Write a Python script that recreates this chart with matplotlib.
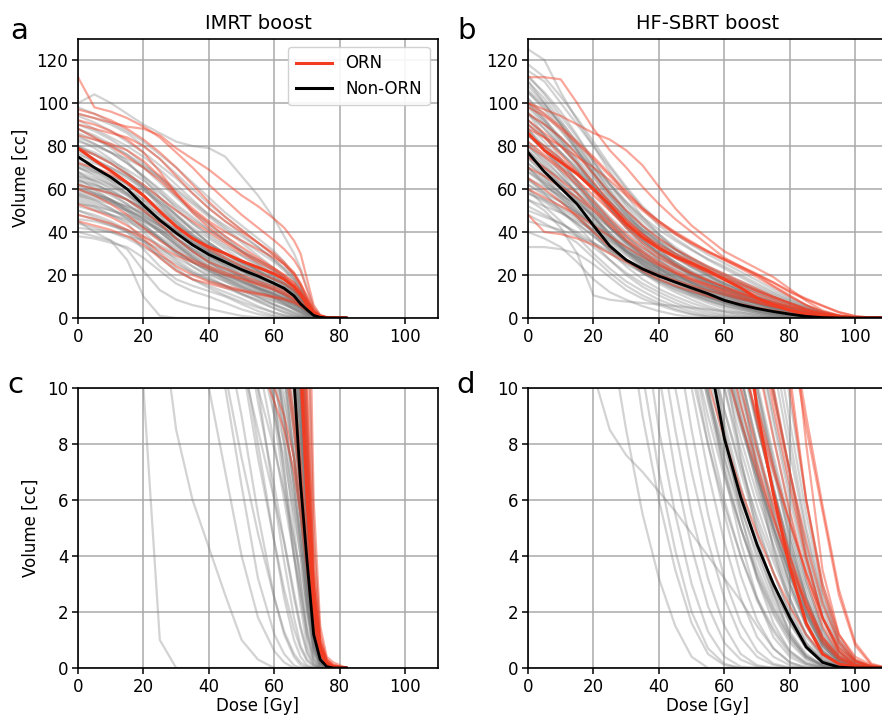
import matplotlib
matplotlib.use("Agg")
import matplotlib.pyplot as plt
from matplotlib.lines import Line2D

# ---------------- data (volume [cc] at each dose grid point [Gy]) ----------------
IMRT_DOSE = [0, 5, 10, 15, 20, 25, 30, 35, 40, 45, 50, 55, 60, 63, 66, 68, 70, 72, 74, 76, 78, 82]

IMRT_NONORN = [
    [45, 40, 36, 27, 10, 1, 0, 0, 0, 0, 0, 0, 0, 0, 0, 0, 0, 0, 0, 0, 0, 0],
    [40, 38, 36, 32, 22, 13, 8.5, 6, 4.3, 2.6, 1.0, 0.3, 0, 0, 0, 0, 0, 0, 0, 0, 0, 0],
    [38, 37, 35, 33, 28, 22, 16, 12.5, 10, 7, 4, 1.8, 0.6, 0.2, 0, 0, 0, 0, 0, 0, 0, 0],
    [50, 47, 44, 40, 32, 24, 18, 15, 12.5, 10, 6.5, 3.2, 1.2, 0.5, 0.1, 0, 0, 0, 0, 0, 0, 0],
    [55, 52, 48, 44, 36, 28, 22, 18, 15, 12, 9, 5.5, 2.5, 1.2, 0.4, 0.1, 0, 0, 0, 0, 0, 0],
    [58, 55, 51, 46, 40, 33, 27, 22, 18, 15, 11.5, 8, 4.5, 2.5, 1.0, 0.4, 0.1, 0, 0, 0, 0, 0],
    [62, 58, 54, 49, 43, 37, 31, 26, 22, 18, 14, 10, 6, 3.8, 1.8, 0.8, 0.3, 0.1, 0, 0, 0, 0],
    [48, 46, 43, 40, 36, 31, 26, 21, 17, 14, 11, 8.5, 6, 4.5, 2.5, 1.4, 0.5, 0.1, 0, 0, 0, 0],
    [65, 60, 55, 50, 45, 40, 34, 28, 23, 19, 16, 13, 9.5, 7, 4, 2.2, 0.8, 0.2, 0, 0, 0, 0],
    [68, 63, 58, 53, 47, 41, 35, 30, 26, 22, 18, 14, 10.5, 8, 5, 3, 1.2, 0.3, 0, 0, 0, 0],
    [70, 66, 62, 57, 50, 43, 37, 32, 28, 25, 21, 17, 13, 10.5, 7.5, 5, 2.5, 0.8, 0.2, 0, 0, 0],
    [75, 70, 65, 60, 54, 47, 40, 34, 30, 26, 22, 19, 15, 12.5, 10, 7.5, 4, 1.2, 0.3, 0, 0, 0],
    [60, 57, 54, 50, 46, 41, 36, 31, 27, 23, 19, 16, 13, 11, 8.5, 6, 3.2, 1, 0.2, 0, 0, 0],
    [56, 53, 50, 47, 43, 38, 33, 28, 24, 20, 17, 14, 11, 9, 6.5, 4.5, 2.2, 0.6, 0.1, 0, 0, 0],
    [80, 76, 72, 67, 61, 54, 47, 41, 35, 30, 25, 20, 16, 13.5, 10.5, 8, 5, 1.8, 0.4, 0.1, 0, 0],
    [85, 81, 77, 72, 66, 59, 51, 44, 38, 33, 29, 25, 20, 17, 13, 10, 6, 2, 0.5, 0.1, 0, 0],
    [90, 87, 83, 78, 72, 65, 57, 50, 44, 38, 32, 27, 22, 19, 15, 11, 6.5, 2.2, 0.5, 0.1, 0, 0],
    [100, 104, 100, 95, 90, 86, 82, 80, 79, 75, 66, 57, 46, 38, 30, 23, 14, 5, 1, 0.2, 0, 0],
    [95, 93, 90, 86, 80, 74, 67, 60, 53, 47, 41, 35, 29, 25, 19, 14, 8, 3, 0.6, 0.1, 0, 0],
    [72, 68, 64, 60, 55, 50, 44, 38, 33, 29, 25, 21, 17, 14.5, 11.5, 9, 5.5, 2, 0.4, 0.1, 0, 0],
    [66, 62, 59, 55, 51, 46, 41, 36, 31, 27, 23, 19, 15, 12.5, 9.5, 7, 4, 1.3, 0.3, 0, 0, 0],
    [78, 74, 70, 66, 60, 52, 44, 37, 31, 26, 22, 18, 14, 11.5, 9, 6.5, 3.5, 1.1, 0.3, 0, 0, 0],
    [88, 84, 79, 73, 65, 56, 48, 41, 35, 30, 26, 22, 18, 15, 12, 9, 5.5, 1.8, 0.4, 0.1, 0, 0],
    [62, 60, 58, 55, 50, 44, 37, 31, 26, 22, 19, 16, 12.5, 10.5, 8, 5.5, 3, 0.9, 0.2, 0, 0, 0],
    [70, 68, 66, 63, 59, 54, 48, 42, 37, 32, 27, 22, 17, 14, 11, 8.5, 5, 1.6, 0.4, 0.1, 0, 0],
    [82, 80, 77, 74, 70, 65, 59, 53, 47, 41, 35, 29, 23, 19, 14, 10, 5.5, 1.8, 0.4, 0.1, 0, 0],
    [58, 56, 54, 52, 48, 43, 38, 33, 29, 25, 22, 19, 16, 14, 11.5, 9, 5.5, 2, 0.5, 0.1, 0, 0],
    [52, 50, 48, 46, 42, 37, 32, 27, 23, 20, 17, 14, 11.5, 9.8, 7.5, 5.5, 3, 1, 0.2, 0, 0, 0],
    [92, 88, 84, 80, 75, 69, 62, 55, 48, 42, 36, 31, 26, 22, 17, 13, 7.5, 2.5, 0.6, 0.1, 0, 0],
    [64, 61, 57, 53, 48, 42, 35, 29, 24, 20, 16.5, 13.5, 11, 9.5, 7.5, 5.5, 3.2, 1.1, 0.3, 0, 0, 0],
    [76, 73, 70, 66, 61, 55, 48, 41, 35, 30, 26, 22, 18, 15.5, 12.5, 10, 6.5, 2.5, 0.6, 0.1, 0, 0],
    [98, 95, 91, 87, 82, 76, 70, 63, 56, 49, 43, 37, 31, 26, 20, 15, 9, 3, 0.7, 0.1, 0, 0],
    [42, 41, 40, 38, 36, 32, 28, 24, 20, 17, 14, 11.5, 9, 7.5, 5.5, 4, 2.2, 0.7, 0.2, 0, 0, 0],
    [74, 72, 69, 65, 60, 53, 46, 39, 33, 28, 24, 20, 16, 13.5, 10.5, 8, 4.5, 1.5, 0.3, 0, 0, 0],
    [68, 65, 62, 58, 52, 46, 40, 35, 31, 27, 24, 21, 18, 16, 13, 10, 6, 2.2, 0.5, 0.1, 0, 0],
    [86, 83, 80, 76, 71, 66, 60, 54, 48, 43, 38, 33, 27, 23, 18, 13, 7.5, 2.5, 0.5, 0.1, 0, 0],
    [54, 51, 48, 45, 41, 36, 31, 26, 22, 18.5, 15, 12, 9.5, 8, 6, 4.5, 2.5, 0.8, 0.2, 0, 0, 0],
    [60, 58, 55, 51, 46, 40, 34, 28, 23, 19, 15, 12, 10, 8.6, 7, 5.5, 3.5, 1.2, 0.3, 0, 0, 0],
    [80, 77, 73, 69, 64, 58, 52, 46, 41, 36, 31, 26, 21, 18, 14, 11, 7, 2.5, 0.5, 0.1, 0, 0],
    [94, 91, 87, 82, 77, 71, 65, 58, 51, 45, 39, 33, 27, 23, 18, 13, 7.5, 2.5, 0.5, 0.1, 0, 0],
    [50, 48, 45, 41, 35, 29, 23, 18, 14, 10.5, 7.5, 4.8, 2.5, 1.3, 0.5, 0.2, 0.05, 0, 0, 0, 0, 0],
    [63, 59, 55, 50, 44, 37, 30, 24, 19, 15, 11, 7.5, 4.5, 2.8, 1.4, 0.7, 0.25, 0.05, 0, 0, 0, 0],
    [57, 54, 51, 47, 42, 37, 31, 26, 21, 17, 13, 9.5, 6.5, 4.5, 2.7, 1.5, 0.6, 0.15, 0, 0, 0, 0],
    [73, 69, 64, 58, 51, 44, 37, 31, 26, 21, 17, 13, 9, 6.5, 4, 2.5, 1.1, 0.3, 0.05, 0, 0, 0],
    [67, 64, 60, 55, 49, 43, 37, 32, 27, 23, 19, 15, 11, 8.5, 5.8, 4, 2, 0.6, 0.1, 0, 0, 0],
    [83, 79, 74, 68, 61, 53, 45, 38, 32, 27, 22, 17.5, 13, 10.5, 7.5, 5.5, 3, 1, 0.2, 0, 0, 0],
    [46, 45, 43, 41, 38, 34, 30, 26, 22, 18, 14.5, 11, 8, 6, 4, 2.7, 1.3, 0.4, 0.05, 0, 0, 0],
    [77, 73, 68, 62, 55, 48, 41, 35, 30, 25, 20, 15.5, 11.5, 9, 6.5, 4.5, 2.5, 0.8, 0.15, 0, 0, 0],
    [61, 58, 55, 51, 46, 40, 34, 29, 25, 21, 17.5, 14, 11, 9, 6.5, 4.8, 2.8, 0.9, 0.2, 0, 0, 0],
    [70, 67, 63, 58, 52, 46, 40, 34, 29, 24, 19, 14, 9.5, 7, 4.5, 3, 1.5, 0.5, 0.1, 0, 0, 0],
    [88, 85, 81, 76, 70, 63, 56, 49, 43, 37, 31, 25, 19.5, 16, 12.5, 9.5, 6, 2, 0.4, 0.1, 0, 0],
    [64, 62, 59, 55, 51, 46, 41, 36, 32, 28, 24, 20, 16, 13.5, 10.8, 8.5, 5.5, 2, 0.4, 0.1, 0, 0],
    [79, 76, 72, 67, 62, 56, 50, 44, 39, 34, 29, 24, 19, 16, 12.5, 9.5, 5.8, 2, 0.4, 0.1, 0, 0],
    [59, 57, 55, 52, 49, 45, 40, 35, 30, 26, 22, 18, 14, 11.5, 8.8, 6.5, 3.8, 1.3, 0.3, 0, 0, 0],
    [53, 52, 50, 48, 45, 41, 37, 32, 28, 24, 20, 16.5, 13, 11, 8.5, 6.5, 4, 1.5, 0.3, 0, 0, 0],
    [71, 69, 66, 62, 57, 51, 45, 39, 34, 30, 26, 22, 18, 15.5, 12.5, 9.8, 6.2, 2.2, 0.5, 0.1, 0, 0],
    [84, 81, 77, 72, 66, 60, 53, 47, 41, 36, 31, 27, 22, 19, 15, 11.5, 7, 2.4, 0.5, 0.1, 0, 0],
    [66, 64, 61, 57, 53, 48, 43, 38, 34, 30, 26, 22.5, 19, 16.5, 13.5, 10.5, 6.5, 2.3, 0.5, 0.1, 0, 0],
    [57, 55, 53, 50, 47, 43, 39, 35, 31, 27, 23, 19.5, 16, 13.5, 11, 8.5, 5.2, 1.8, 0.4, 0.1, 0, 0],
    [44, 42, 40, 37, 33, 29, 25, 21, 18, 15, 12.5, 10, 7.8, 6.3, 4.6, 3.4, 2, 0.7, 0.15, 0, 0, 0],
]

IMRT_ORN = [
    [112, 98, 96, 93, 89, 84, 77, 70, 62, 55, 48, 42, 36, 32, 27, 22, 13, 4.5, 1.2, 0.3, 0.1, 0],
    [95, 93, 91, 89, 88, 85, 79, 74, 69, 63, 57, 52, 46, 42, 36, 30, 18, 6, 1.5, 0.4, 0.2, 0],
    [97, 95, 92, 88, 83, 77, 70, 62, 54, 47, 41, 35, 29, 25, 20, 15, 8.5, 3, 0.8, 0.2, 0.05, 0],
    [90, 88, 86, 84, 80, 74, 66, 58, 51, 45, 40, 35, 30, 26, 21, 16, 10, 3.5, 0.9, 0.2, 0.05, 0],
    [88, 84, 80, 75, 70, 64, 57, 50, 44, 38, 33, 28, 23, 20, 16, 12, 7.5, 2.8, 0.8, 0.2, 0.05, 0],
    [79, 76, 72, 67, 62, 56, 50, 45, 40, 35, 30, 26, 22, 19, 15, 11.5, 7, 2.8, 0.8, 0.2, 0.05, 0],
    [72, 70, 67, 63, 57, 50, 43, 37, 32, 28, 24, 21, 18, 16, 13, 10, 6.5, 2.5, 0.8, 0.2, 0.05, 0],
    [62, 60, 58, 55, 50, 44, 37, 31, 26, 23, 20, 17, 14.5, 12.5, 10, 7.5, 4.5, 1.8, 0.6, 0.15, 0.05, 0],
    [60, 57, 53, 48, 42, 36, 31, 27, 24, 21, 18.5, 16, 13.5, 11.5, 9, 7, 4.2, 1.6, 0.5, 0.15, 0.05, 0],
    [53, 50, 47, 43, 38, 33, 29, 26, 23, 20, 18, 15.5, 13, 11, 8.5, 6.5, 4, 1.5, 0.5, 0.15, 0.05, 0],
    [48, 46, 44, 41, 37, 30, 24, 20, 17, 15, 13, 11.5, 10, 9, 7.5, 6, 4, 1.6, 0.5, 0.2, 0.05, 0],
    [45, 43, 41, 38, 34, 28, 22, 18, 16, 14, 12.5, 11, 9.5, 8.5, 7, 5.5, 3.5, 1.4, 0.5, 0.15, 0.05, 0],
    [92, 90, 87, 83, 77, 68, 58, 49, 42, 36, 31, 27, 23, 20, 16.5, 12.5, 8, 3, 0.9, 0.3, 0.1, 0],
    [85, 83, 81, 78, 73, 66, 58, 51, 45, 40, 36, 32, 28, 25, 21, 16, 9.5, 3.5, 1, 0.3, 0.1, 0],
]

IMRT_MEAN_NONORN = [75, 70, 65.5, 60, 52.5, 45.5, 39.5, 34, 29.5, 26, 22.5, 19.5, 16, 13.8, 10.3, 6.6, 3.8, 1.2, 0.3, 0.05, 0, 0]
IMRT_MEAN_ORN = [79, 73.5, 68.5, 63, 57, 49.5, 42.5, 37, 33, 30, 26.5, 23.5, 20.5, 18, 14.5, 11, 6, 2.3, 0.7, 0.15, 0.03, 0]

SBRT_DOSE = [0, 5, 10, 15, 20, 25, 30, 35, 40, 45, 50, 55, 60, 65, 70, 75, 80, 85, 90, 95, 100, 105, 110]

SBRT_NONORN = [
    [55, 50, 42, 30, 10.5, 8.5, 7.6, 7, 6.3, 5.6, 4.8, 4, 3.2, 2.4, 1.5, 0.7, 0.2, 0, 0, 0, 0, 0, 0],
    [40, 37, 33, 26, 18, 12, 8.5, 5.5, 3.2, 1.5, 0.4, 0, 0, 0, 0, 0, 0, 0, 0, 0, 0, 0, 0],
    [33, 33, 32, 30, 25, 19, 13, 9, 6, 3.5, 1.6, 0.5, 0.1, 0, 0, 0, 0, 0, 0, 0, 0, 0, 0],
    [48, 44, 40, 35, 28, 21, 15, 10.5, 7, 4.2, 2, 0.7, 0.15, 0, 0, 0, 0, 0, 0, 0, 0, 0, 0],
    [60, 52, 45, 38, 30, 23, 17, 12.5, 8.5, 5.5, 3, 1.3, 0.4, 0.05, 0, 0, 0, 0, 0, 0, 0, 0, 0],
    [65, 58, 50, 43, 35, 27, 20, 14.5, 10.5, 7, 4.3, 2.2, 0.9, 0.3, 0.05, 0, 0, 0, 0, 0, 0, 0, 0],
    [52, 48, 44, 39, 33, 27, 21, 16, 12, 8.5, 5.5, 3.2, 1.5, 0.5, 0.1, 0, 0, 0, 0, 0, 0, 0, 0],
    [70, 62, 55, 47, 39, 31, 24, 18, 13.5, 10, 7, 4.5, 2.5, 1.1, 0.4, 0.1, 0, 0, 0, 0, 0, 0, 0],
    [75, 66, 58, 50, 42, 34, 27, 21, 16, 12, 8.5, 5.5, 3.2, 1.6, 0.6, 0.15, 0.02, 0, 0, 0, 0, 0, 0],
    [58, 55, 51, 46, 40, 33, 27, 21.5, 17, 13, 10, 7, 4.5, 2.5, 1.1, 0.4, 0.1, 0, 0, 0, 0, 0, 0],
    [80, 72, 64, 56, 47, 38, 30, 24, 19, 14.5, 11, 8, 5.5, 3.3, 1.7, 0.7, 0.2, 0.03, 0, 0, 0, 0, 0],
    [90, 82, 73, 64, 54, 45, 36, 29, 23, 18, 13.5, 10, 7, 4.5, 2.5, 1.1, 0.4, 0.1, 0, 0, 0, 0, 0],
    [100, 92, 82, 72, 61, 51, 42, 34, 27, 21, 16, 12, 8.5, 5.5, 3.2, 1.6, 0.6, 0.15, 0.02, 0, 0, 0, 0],
    [110, 102, 92, 81, 70, 59, 49, 40, 32, 25, 19.5, 15, 11, 7.5, 4.8, 2.7, 1.2, 0.4, 0.1, 0, 0, 0, 0],
    [125, 120, 105, 92, 80, 68, 57, 47, 39, 32, 26, 20, 15, 10.5, 7, 4.2, 2.2, 0.9, 0.25, 0.05, 0, 0, 0],
    [62, 57, 52, 47, 41, 35, 29, 24, 20, 16.5, 13.5, 11, 8.5, 6.3, 4.3, 2.6, 1.3, 0.5, 0.1, 0, 0, 0, 0],
    [85, 78, 70, 62, 53, 44, 36, 30, 25, 21, 17.5, 14.5, 11.5, 9, 6.5, 4.3, 2.5, 1.1, 0.35, 0.05, 0, 0, 0],
    [95, 88, 80, 71, 61, 51, 42, 35, 29, 24, 20, 16.5, 13.5, 10.5, 8, 5.5, 3.3, 1.6, 0.6, 0.1, 0, 0, 0],
    [105, 98, 90, 80, 70, 60, 50, 42, 35, 29, 24, 20, 16, 12.5, 9.5, 6.5, 4, 2, 0.8, 0.2, 0.03, 0, 0],
    [72, 66, 60, 54, 47, 40, 33, 27.5, 23, 19, 15.5, 12.5, 10, 7.8, 5.8, 4, 2.5, 1.2, 0.4, 0.05, 0, 0, 0],
    [68, 63, 58, 52, 45, 38, 31, 25, 20, 16, 12.5, 9.5, 7, 5, 3.3, 2, 1, 0.35, 0.08, 0, 0, 0, 0],
    [78, 70, 62, 55, 47, 39, 32, 26, 21, 17, 13.5, 10.5, 8, 5.8, 3.9, 2.4, 1.2, 0.45, 0.1, 0, 0, 0, 0],
    [88, 80, 72, 64, 55, 46, 38, 31, 25, 20.5, 16.5, 13, 10, 7.4, 5.2, 3.4, 1.9, 0.8, 0.25, 0.04, 0, 0, 0],
    [98, 90, 81, 72, 62, 52, 43, 36, 30, 25, 20.5, 16.5, 13, 10, 7.3, 5, 3, 1.5, 0.5, 0.1, 0, 0, 0],
    [112, 105, 96, 85, 73, 62, 52, 43, 36, 30, 25, 20.5, 16.5, 13, 10, 7.2, 4.6, 2.5, 1, 0.3, 0.05, 0, 0],
    [108, 100, 90, 78, 66, 55, 45, 37, 31, 26, 21.5, 18, 14.5, 11.5, 8.8, 6.3, 4, 2.1, 0.9, 0.25, 0.04, 0, 0],
    [82, 75, 68, 61, 53, 45, 38, 32, 27, 23, 19.5, 16.5, 13.5, 11, 8.6, 6.4, 4.3, 2.5, 1.1, 0.35, 0.06, 0, 0],
    [92, 85, 77, 69, 60, 51, 43, 36, 30.5, 26, 22, 18.5, 15.5, 12.5, 9.8, 7.2, 4.8, 2.7, 1.2, 0.4, 0.08, 0, 0],
    [102, 95, 87, 78, 68, 58, 49, 41, 35, 30, 25.5, 21.5, 18, 14.5, 11.3, 8.3, 5.5, 3.1, 1.4, 0.45, 0.1, 0.01, 0],
    [75, 70, 65, 59, 52, 45, 38, 32.5, 28, 24, 20.5, 17.5, 14.5, 12, 9.5, 7, 4.6, 2.5, 1, 0.3, 0.05, 0, 0],
    [65, 61, 57, 53, 48, 42, 36, 31, 26.5, 22.5, 19, 16, 13, 10.4, 8, 5.8, 3.8, 2.1, 0.9, 0.25, 0.04, 0, 0],
    [55, 52, 49, 45, 41, 36, 31, 27, 23, 19.5, 16.5, 13.5, 11, 8.7, 6.6, 4.7, 3, 1.6, 0.6, 0.15, 0.02, 0, 0],
    [100, 92, 84, 76, 67, 58, 50, 43, 37, 32, 27.5, 23.5, 20, 16.5, 13.2, 10, 7, 4.2, 2, 0.7, 0.15, 0.02, 0],
    [115, 110, 100, 90, 80, 70, 60, 51, 43, 37, 32, 27, 23, 19, 15, 11.5, 8.2, 5, 2.5, 0.9, 0.2, 0.03, 0],
    [95, 90, 84, 77, 70, 62, 54, 47, 41, 36, 31.5, 27.5, 24, 20, 16, 12.3, 8.8, 5.5, 2.7, 1, 0.25, 0.04, 0],
    [85, 80, 74, 68, 61, 54, 47, 41, 36, 31.5, 27.5, 24, 20.5, 17.2, 14, 10.8, 7.7, 4.8, 2.4, 0.9, 0.2, 0.03, 0],
    [70, 64, 58, 51, 44, 37, 31, 26, 22, 18.5, 15.5, 12.8, 10.4, 8.2, 6.2, 4.4, 2.8, 1.5, 0.6, 0.15, 0.02, 0, 0],
    [60, 55, 50, 44, 38, 32, 27, 23, 19.5, 16.5, 13.8, 11.4, 9.2, 7.2, 5.4, 3.8, 2.4, 1.2, 0.45, 0.1, 0.01, 0, 0],
    [45, 43, 41, 38, 35, 31, 27, 23.5, 20.5, 17.5, 15, 12.7, 10.6, 8.6, 6.8, 5, 3.3, 1.8, 0.7, 0.2, 0.03, 0, 0],
    [118, 112, 103, 93, 82, 71, 61, 52, 45, 39, 34, 29.5, 25.5, 21.5, 17.5, 13.5, 9.6, 6, 3, 1.1, 0.3, 0.05, 0],
    [90, 84, 77, 70, 62, 54, 46, 39.5, 34, 29.5, 25.5, 22, 18.8, 15.8, 12.8, 9.8, 6.8, 4, 1.8, 0.6, 0.1, 0.01, 0],
    [80, 73, 66, 58, 50, 42, 35, 29, 24, 20, 16.5, 13.5, 11, 8.8, 6.8, 5, 3.3, 1.9, 0.8, 0.25, 0.05, 0, 0],
    [50, 47, 44, 40, 35, 30, 25, 21, 17.5, 14.5, 12, 9.8, 7.8, 6, 4.4, 3, 1.8, 0.8, 0.25, 0.05, 0, 0, 0],
    [72, 65, 57, 49, 40, 32, 26, 21, 17, 13.5, 10.5, 8, 5.8, 4, 2.5, 1.4, 0.6, 0.2, 0.04, 0, 0, 0, 0],
    [105, 97, 88, 78, 67, 57, 48, 40, 33.5, 28, 23.5, 19.5, 16, 12.8, 10, 7.4, 5, 2.9, 1.3, 0.4, 0.08, 0, 0],
    [88, 78, 68, 58, 48, 39, 31, 25, 20, 15.5, 11.5, 8.5, 6, 4, 2.4, 1.3, 0.5, 0.15, 0.02, 0, 0, 0, 0],
    [95, 85, 74, 63, 52, 42, 34, 27, 21.5, 17, 13, 9.8, 7.2, 5, 3.2, 1.9, 0.9, 0.3, 0.05, 0, 0, 0, 0],
    [78, 71, 63, 55, 47, 39, 32, 26.5, 22, 18, 14.5, 11.5, 8.8, 6.5, 4.5, 2.9, 1.6, 0.7, 0.2, 0.03, 0, 0, 0],
    [68, 62, 56, 50, 43, 36, 30, 25, 20.5, 16.5, 13, 10, 7.5, 5.4, 3.6, 2.2, 1.1, 0.4, 0.1, 0, 0, 0, 0],
    [102, 93, 83, 73, 63, 53, 44, 36.5, 30, 24.5, 20, 16, 12.5, 9.5, 7, 4.8, 3, 1.6, 0.6, 0.15, 0.02, 0, 0],
    [85, 78, 71, 63, 55, 47, 40, 34, 29, 24.5, 20.5, 17, 14, 11.2, 8.7, 6.4, 4.3, 2.5, 1.1, 0.35, 0.05, 0, 0],
    [58, 54, 49, 44, 38, 32, 26.5, 22, 18, 14.5, 11.5, 9, 6.8, 5, 3.4, 2.1, 1.1, 0.4, 0.08, 0, 0, 0, 0],
    [92, 85, 77, 69, 60, 51, 43, 36, 30, 25, 21, 17.5, 14.2, 11.3, 8.7, 6.3, 4.1, 2.3, 1, 0.3, 0.05, 0, 0],
    [110, 100, 90, 79, 68, 57, 47, 39, 32, 26, 21, 17, 13.5, 10.5, 7.8, 5.5, 3.5, 1.9, 0.8, 0.2, 0.03, 0, 0],
    [74, 68, 62, 56, 49, 42, 35.5, 30, 25.5, 21.5, 18, 15, 12.3, 9.8, 7.6, 5.6, 3.8, 2.2, 1, 0.3, 0.05, 0, 0],
    [64, 59, 54, 49, 43, 37, 31.5, 27, 23, 19.5, 16.5, 13.8, 11.3, 9, 7, 5.1, 3.4, 1.9, 0.8, 0.2, 0.03, 0, 0],
    [96, 88, 80, 72, 63, 54, 46, 39, 33, 28, 23.5, 19.5, 16, 13, 10.2, 7.6, 5.2, 3.1, 1.4, 0.45, 0.08, 0, 0],
    [106, 99, 91, 82, 72, 62, 53, 45, 38, 32, 27, 22.5, 18.5, 15, 11.8, 8.8, 6, 3.6, 1.7, 0.55, 0.1, 0.01, 0],
    [81, 74, 66, 58, 50, 42, 35, 29, 24, 20, 16.5, 13.5, 11, 8.8, 6.8, 5, 3.4, 2, 0.9, 0.3, 0.05, 0, 0],
    [70, 63, 56, 48, 40, 33, 27, 22, 18, 14.8, 12, 9.6, 7.5, 5.7, 4.1, 2.7, 1.6, 0.7, 0.2, 0.03, 0, 0, 0],
    [87, 79, 70, 61, 52, 43, 35, 28.5, 23, 18.5, 14.8, 11.8, 9.2, 7, 5, 3.4, 2, 0.9, 0.3, 0.05, 0, 0, 0],
    [99, 91, 83, 74, 65, 56, 48, 41, 35, 30, 25.5, 21.5, 18, 14.8, 11.8, 9, 6.3, 3.8, 1.8, 0.6, 0.1, 0.01, 0],
    [62, 58, 54, 49, 44, 38, 33, 28, 24, 20.5, 17.2, 14.3, 11.7, 9.3, 7.2, 5.3, 3.6, 2, 0.9, 0.25, 0.04, 0, 0],
    [76, 69, 62, 54, 46, 38, 31, 25.5, 21, 17, 13.7, 10.8, 8.3, 6.2, 4.4, 2.9, 1.7, 0.8, 0.25, 0.04, 0, 0, 0],
    [113, 104, 94, 84, 73, 63, 54, 46, 39, 33, 28, 23.5, 19.5, 16, 12.8, 9.8, 7, 4.4, 2.2, 0.8, 0.15, 0.02, 0],
]

SBRT_ORN = [
    [112, 112, 111, 100, 88, 78, 70, 61, 53, 46, 40, 34, 28, 24, 20, 15, 10.5, 6, 3, 1.2, 0.4, 0.1, 0],
    [100, 97, 94, 90, 86, 83, 78, 71, 61, 51, 43, 37, 31, 27, 23, 19, 13.5, 8, 3.5, 1.2, 0.3, 0.05, 0],
    [98, 94, 88, 81, 74, 66, 58, 51, 45, 40, 35.5, 31, 27, 23, 19, 14.5, 10, 6, 2.8, 1, 0.25, 0.03, 0],
    [95, 90, 84, 76, 67, 58, 50, 43, 37, 32, 28, 24, 20.5, 17, 13.5, 10, 7, 4, 1.8, 0.6, 0.1, 0, 0],
    [92, 86, 80, 72, 63, 54, 46, 39, 33, 28.5, 24.5, 21, 17.5, 14, 11, 8.2, 5.6, 3.3, 1.5, 0.5, 0.1, 0, 0],
    [90, 84, 76, 68, 59, 50, 42, 35, 29.5, 25, 21, 17.5, 14.5, 11.5, 8.8, 6.3, 4, 2.2, 0.9, 0.3, 0.05, 0, 0],
    [85, 80, 74, 67, 60, 52, 45, 39, 34, 30, 26.5, 23, 19.5, 16, 12.5, 9.3, 6.5, 3.9, 1.8, 0.6, 0.12, 0.02, 0],
    [80, 75, 69, 62, 54, 46, 39, 33, 28, 24, 20.5, 17.5, 14.5, 11.8, 9.4, 7.2, 5.2, 3.4, 1.8, 0.7, 0.2, 0.03, 0],
    [75, 70, 64, 58, 51, 44, 37, 31, 26, 22, 18.5, 15.5, 12.5, 10, 7.8, 5.8, 4, 2.4, 1.1, 0.4, 0.08, 0, 0],
    [70, 66, 61, 56, 50, 43, 36, 30, 25, 21, 17.5, 14.5, 11.8, 9.4, 7.3, 5.4, 3.7, 2.2, 1, 0.35, 0.07, 0, 0],
    [48, 40, 39, 37, 34, 30, 26, 23, 20, 17.5, 15, 12.8, 10.8, 8.8, 7, 5.3, 3.7, 2.3, 1.1, 0.4, 0.1, 0.01, 0],
    [65, 60, 54, 47, 40, 33, 27, 22, 18, 15, 12.5, 10.2, 8.2, 6.4, 4.8, 3.4, 2.2, 1.2, 0.5, 0.15, 0.03, 0, 0],
    [100, 95, 89, 82, 75, 67, 59, 51, 45, 39.5, 35, 31, 27.5, 24, 20.5, 16.5, 12, 8.6, 5.6, 2.6, 0.8, 0.1, 0],
    [88, 84, 80, 75, 70, 64, 57, 50, 44, 39, 34.5, 30.5, 27, 23.5, 20, 16.5, 12.5, 9, 5.8, 2.8, 0.9, 0.15, 0],
    [82, 76, 70, 64, 57, 50, 43, 37, 32, 28, 24.5, 21.5, 18.5, 15.5, 12.5, 9.7, 7, 4.5, 2.3, 0.9, 0.25, 0.05, 0],
    [60, 56, 52, 48, 43, 38, 33, 28.5, 24.5, 21, 18, 15.5, 13.2, 11, 9, 7, 5.2, 3.4, 1.8, 0.75, 0.25, 0.05, 0],
]

SBRT_MEAN_NONORN = [77, 68, 60.5, 53, 43, 33.5, 27, 22.8, 19.5, 16.7, 14, 11.3, 8.2, 6.1, 4.4, 3, 1.8, 0.75, 0.2, 0.03, 0, 0, 0]
SBRT_MEAN_ORN = [86, 78, 72.5, 67, 60, 52.5, 44, 37.5, 32.5, 28.5, 25.5, 22, 18, 14, 9.2, 6.2, 3.6, 1.6, 0.5, 0.15, 0.02, 0, 0]

TITLES = ["IMRT boost", "HF-SBRT boost"]
PANEL_LETTERS = ["a", "b", "c", "d"]
LEGEND_LABELS = ["ORN", "Non-ORN"]

# sanity check on series lengths
for grid, group in [(IMRT_DOSE, IMRT_NONORN + IMRT_ORN + [IMRT_MEAN_NONORN, IMRT_MEAN_ORN]),
                    (SBRT_DOSE, SBRT_NONORN + SBRT_ORN + [SBRT_MEAN_NONORN, SBRT_MEAN_ORN])]:
    for i, v in enumerate(group):
        if len(v) != len(grid):
            raise ValueError(f"series {i} has {len(v)} values, expected {len(grid)}")

# ---------------- styling ----------------
RED = "#f23c22"
GRAY = "#7a7a7a"
FS = 12

plt.rcParams["font.family"] = ["DejaVu Sans"]
fig = plt.figure(figsize=(8.82, 7.19), dpi=100)

W, H = 882.0, 719.0
def ax_at(x0, y_top, y_bot, width=360):
    return fig.add_axes([x0 / W, 1 - y_bot / H, width / W, (y_bot - y_top) / H])

ax_a = ax_at(78, 38.5, 318)
ax_b = ax_at(528, 38.5, 318)
ax_c = ax_at(78, 388, 668)
ax_d = ax_at(528, 388, 668)

panels = [
    (ax_a, IMRT_DOSE, IMRT_NONORN, IMRT_ORN, IMRT_MEAN_NONORN, IMRT_MEAN_ORN, 130),
    (ax_b, SBRT_DOSE, SBRT_NONORN, SBRT_ORN, SBRT_MEAN_NONORN, SBRT_MEAN_ORN, 130),
    (ax_c, IMRT_DOSE, IMRT_NONORN, IMRT_ORN, IMRT_MEAN_NONORN, IMRT_MEAN_ORN, 10),
    (ax_d, SBRT_DOSE, SBRT_NONORN, SBRT_ORN, SBRT_MEAN_NONORN, SBRT_MEAN_ORN, 10),
]

for ax, dose, non, orn, mnon, morn, ymax in panels:
    for v in non:
        ax.plot(dose, v, color=GRAY, alpha=0.33, lw=1.6, solid_capstyle="round")
    for v in orn:
        ax.plot(dose, v, color=RED, alpha=0.45, lw=1.6, solid_capstyle="round")
    ax.plot(dose, morn, color=RED, lw=2.2)
    ax.plot(dose, mnon, color="black", lw=2.0)
    ax.set_xlim(0, 110)
    ax.set_ylim(0, ymax)
    ax.set_xticks(range(0, 101, 20))
    if ymax == 10:
        ax.set_yticks(range(0, 11, 2))
    else:
        ax.set_yticks(range(0, 121, 20))
    ax.grid(True, color="#a9a9a9", lw=1.1)
    ax.set_axisbelow(True)
    ax.tick_params(labelsize=FS, direction="out", length=4, width=1.1, pad=3)
    for s in ax.spines.values():
        s.set_linewidth(1.2)

ax_a.set_title(TITLES[0], fontsize=14, pad=7)
ax_b.set_title(TITLES[1], fontsize=14, pad=7)
ax_a.set_ylabel("Volume [cc]", fontsize=FS, labelpad=5)
ax_c.set_ylabel("Volume [cc]", fontsize=FS, labelpad=5)
ax_c.set_xlabel("Dose [Gy]", fontsize=FS, labelpad=1)
ax_d.set_xlabel("Dose [Gy]", fontsize=FS, labelpad=1)

handles = [Line2D([], [], color=RED, lw=2.2), Line2D([], [], color="black", lw=2.2)]
ax_a.legend(handles, LEGEND_LABELS, loc="upper right", fontsize=FS, framealpha=0.9,
            handlelength=2.2, borderpad=0.45, labelspacing=0.45)

letter_pos = [(10, 39), (457, 39), (7, 393), (456, 393)]
for lt, (x, y) in zip(PANEL_LETTERS, letter_pos):
    fig.text(x / W, 1 - y / H, lt, fontsize=21, ha="left", va="baseline")

fig.savefig("out.png", dpi=100)
